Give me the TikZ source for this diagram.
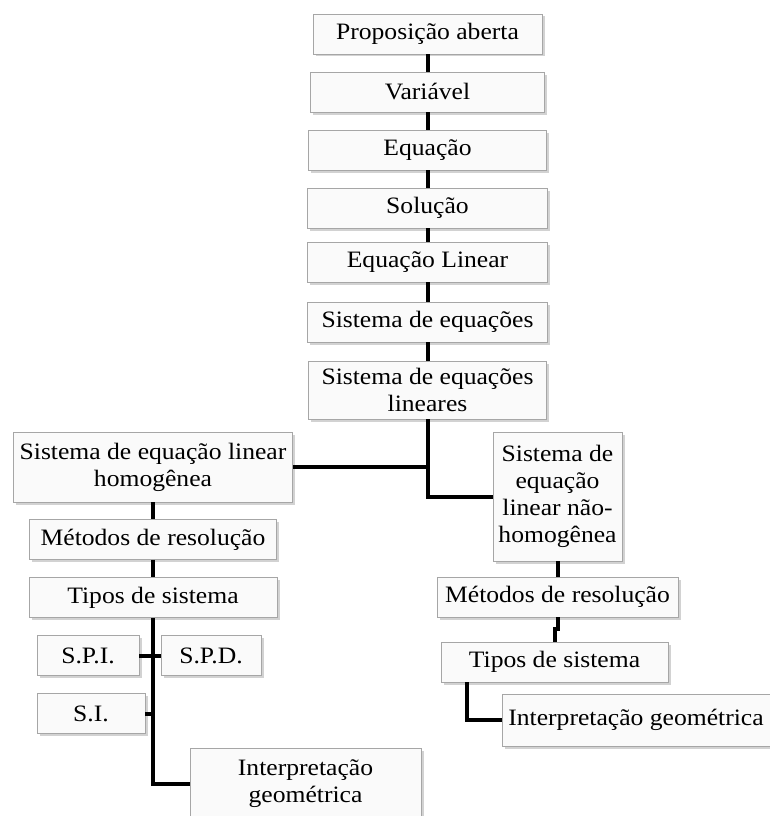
\documentclass[tikz,border=0pt]{standalone}
\usepackage{fontspec}
\setmainfont[FakeStretch=1.09]{Liberation Serif}
\usetikzlibrary{shapes.geometric, arrows, shadows}
\tikzstyle{topic} = [rectangle, 
minimum height=40pt, 
inner sep=3pt, 
text centered, 
align=center, 
draw=gray!70, 
line width=0.8pt, 
fill=gray!4, 
drop shadow={shadow xshift=2.5pt, shadow yshift=-2.5pt, fill=gray!50, opacity=0.7}, 
font=\fontsize{23.5}{27}\selectfont]
\tikzstyle{link} = [line width=4pt, black]

\begin{document}
\begin{tikzpicture}[x=1pt, y=1pt, node distance=58pt]
        \useasboundingbox (0,0) rectangle (770,-816);
        \node (prop) [topic, minimum width=229pt] at (427.5,-34) {Proposição aberta};
        \node (var) [topic, minimum width=234pt, below of=prop] {Variável};
        \node (eq) [topic, minimum width=238pt, below of=var] {Equação};
        \node (sol) [topic, minimum width=240pt, below of=eq] {Solução};
        \node (eql) [topic, minimum width=240pt, below of=sol, yshift=4pt] {Equação Linear};
        \node (sde) [topic, minimum width=240pt, below of=eql, yshift=-2pt] {Sistema de equações};
        \node (sdel) [topic, minimum width=238pt, minimum height=58pt, below of=sde, yshift=-10pt] {Sistema de equações\\lineares};
        \node (hom) [topic, minimum width=279pt, minimum height=70pt, below of=sdel, xshift=-274.5pt, yshift=-19pt] {Sistema de equação linear\\homogênea};
        \node (metL) [topic, minimum width=247pt, below of=hom, yshift=-14.5pt] {Métodos de resolução};
        \node (tipL) [topic, minimum width=248pt, below of=metL] {Tipos de sistema};
        \node (spi) [topic, minimum width=102pt, below of=tipL, xshift=-65pt] {S.P.I.};
        \node (spd) [topic, minimum width=100pt, below of=tipL, xshift=58pt] {S.P.D.};
        \node (si) [topic, minimum width=108pt, below of=spi, xshift=3pt] {S.I.};
        \node (intL) [topic, minimum width=231pt, minimum height=70pt, below of=si, xshift=214.5pt, yshift=-12pt] {Interpretação\\geométrica};
        \node (nhom) [topic, minimum width=129pt, minimum height=129pt, below of=sdel, xshift=130pt, yshift=-48.5pt] {Sistema de\\equação\\linear não-\\homogênea};
        \node (metR) [topic, minimum width=241pt, below of=nhom, yshift=-42.5pt] {Métodos de resolução};
        \node (tipR) [topic, minimum width=227pt, below of=metR, xshift=-3pt, yshift=-7pt] {Tipos de sistema};
        \node (intR) [topic, minimum width=268pt, minimum height=52pt, below of=tipR, xshift=81.5pt] {Interpretação geométrica};
        \draw [link] (prop) -- (var);
        \draw [link] (var) -- (eq);
        \draw [link] (eq) -- (sol);
        \draw [link] (sol) -- (eql);
        \draw [link] (eql) -- (sde);
        \draw [link] (sde) -- (sdel);
        \draw [link] (hom.east) -- (sdel.south |- hom.east);
        \draw [link] (sdel.south) |- (nhom.west);
        \draw [link] (hom) -- (metL);
        \draw [link] (metL) -- (tipL);
        \draw [link] (tipL.south) |- (intL.west);
        \draw [link] (spi.east) -- (spd.west);
        \draw [link] (si.east) -- (tipL.south |- si.east);
        \draw [link] (nhom) -- (metR);
        \draw [link] (metR.south) -- ++(0,-12) -| (tipR.north);
        \draw [link] ([xshift=26pt]tipR.south west) |- (intR.west);
    \end{tikzpicture}
\end{document}
